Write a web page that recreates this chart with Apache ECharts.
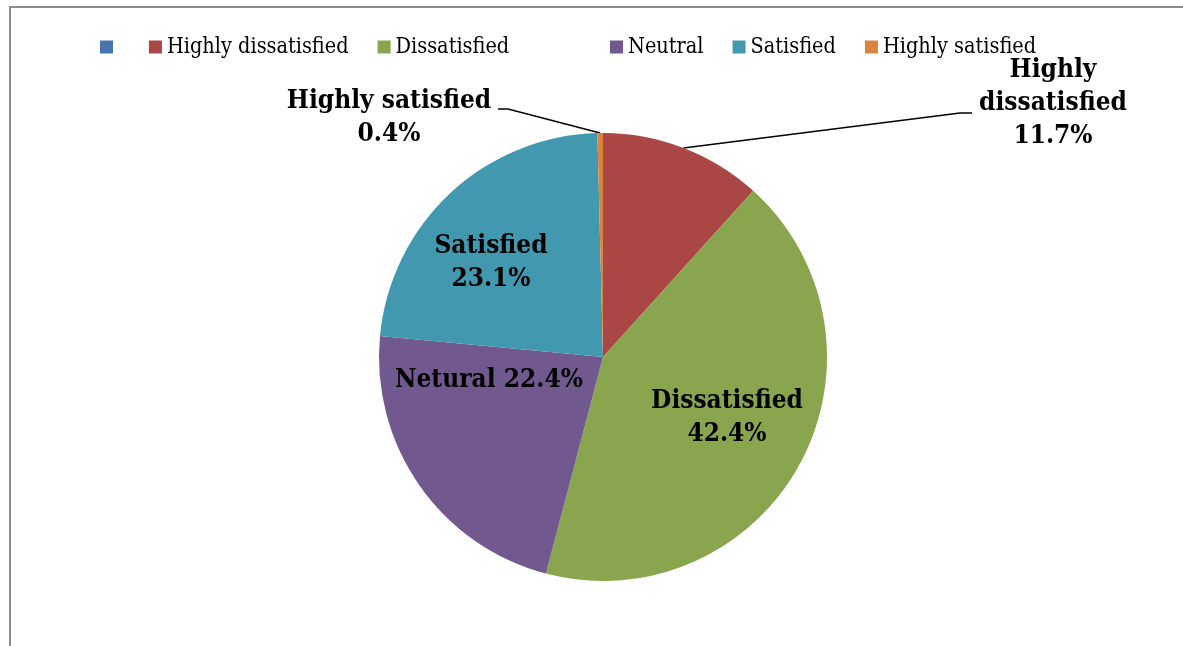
<!DOCTYPE html>
<html>
<head>
<meta charset="utf-8">
<script src="https://cdn.jsdelivr.net/npm/echarts@6/dist/echarts.min.js"></script>
<style>
  html, body { margin: 0; padding: 0; background: #fff; }
  #chart { width: 1183px; height: 646px; }
</style>
</head>
<body>
<div id="chart"></div>
<script>
// Satisfaction survey breakdown (percent of respondents)
const categories = ['\u200a', 'Highly dissatisfied', 'Dissatisfied', 'Neutral', 'Satisfied', 'Highly satisfied'];
const values = [0, 11.7, 42.4, 22.4, 23.1, 0.4];
const sliceLabels = [null, 'Highly\ndissatisfied', 'Dissatisfied', 'Netural', 'Satisfied', 'Highly satisfied'];
const colors = ['#4674AB', '#AA4643', '#89A54E', '#71588F', '#4198AF', '#DB843D'];

const FONT = "'DejaVu Serif Condensed', 'DejaVu Serif', serif";
const CENTER = [603, 357];
const RADIUS = 224;

// where each data label sits, and whether it gets a leader line
const labelPlacement = {
  'Highly dissatisfied': { x: 1053, y: 103, sep: '\n', lineEnd: [972, 113], elbow: [960, 113] },
  'Dissatisfied':        { x: 727,  y: 418, sep: '\n' },
  'Neutral':             { x: 489,  y: 380, sep: ' ' },
  'Satisfied':           { x: 491,  y: 263, sep: '\n' },
  'Highly satisfied':    { x: 389,  y: 118, sep: '\n', lineEnd: [498, 109], elbow: [508, 109] }
};

const total = values.reduce((a, b) => a + b, 0);

// point on the rim at the middle of a slice (clockwise from 12 o'clock)
function rimMidpoint(index) {
  let before = 0;
  for (let i = 0; i < index; i++) before += values[i];
  const theta = (before + values[index] / 2) / total * Math.PI * 2;
  return [CENTER[0] + RADIUS * Math.sin(theta), CENTER[1] - RADIUS * Math.cos(theta)];
}

const pieData = categories.map((name, i) => {
  const place = labelPlacement[name];
  const item = { name: name, value: values[i], itemStyle: { color: colors[i] } };
  if (!place) {
    item.label = { show: false };
    item.labelLine = { show: false };
  } else {
    item.label = {
      show: true,
      position: place.lineEnd ? 'outside' : 'inside',
      formatter: sliceLabels[i] + place.sep + values[i].toFixed(1) + '%'
    };
    item.labelLine = { show: !!place.lineEnd };
  }
  return item;
});

const legendCommon = {
  top: 36,
  padding: 0,
  icon: 'rect',
  itemWidth: 13,
  itemHeight: 13,
  itemGap: 29,
  selectedMode: false,
  textStyle: { fontFamily: FONT, fontSize: 21.5, color: '#000' }
};

const chart = echarts.init(document.getElementById('chart'), null, { renderer: 'canvas' });
chart.setOption({
  animation: false,
  backgroundColor: '#fff',
  graphic: [{
    type: 'polyline',
    shape: { points: [[10, 700], [10, 7], [1200, 7]] },
    style: { stroke: '#8c8c8c', lineWidth: 2, fill: null },
    silent: true
  }],
  legend: [
    Object.assign({ left: 100, data: categories.slice(0, 3) }, legendCommon),
    Object.assign({ left: 610, data: categories.slice(3) }, legendCommon)
  ],
  series: [{
    type: 'pie',
    center: CENTER,
    radius: RADIUS,
    startAngle: 90,
    clockwise: true,
    avoidLabelOverlap: false,
    emphasis: { disabled: true },
    label: {
      fontFamily: FONT,
      fontSize: 26,
      fontWeight: 'bold',
      color: '#000',
      lineHeight: 33,
      align: 'center'
    },
    labelLine: { lineStyle: { color: '#000', width: 1.5 } },
    labelLayout: function (params) {
      const name = categories[params.dataIndex];
      const place = labelPlacement[name];
      if (!place) return {};
      const out = { x: place.x, y: place.y, align: 'center', verticalAlign: 'middle' };
      if (place.lineEnd) {
        out.labelLinePoints = [rimMidpoint(params.dataIndex), place.elbow, place.lineEnd];
      }
      return out;
    },
    data: pieData
  }]
});
</script>
</body>
</html>
